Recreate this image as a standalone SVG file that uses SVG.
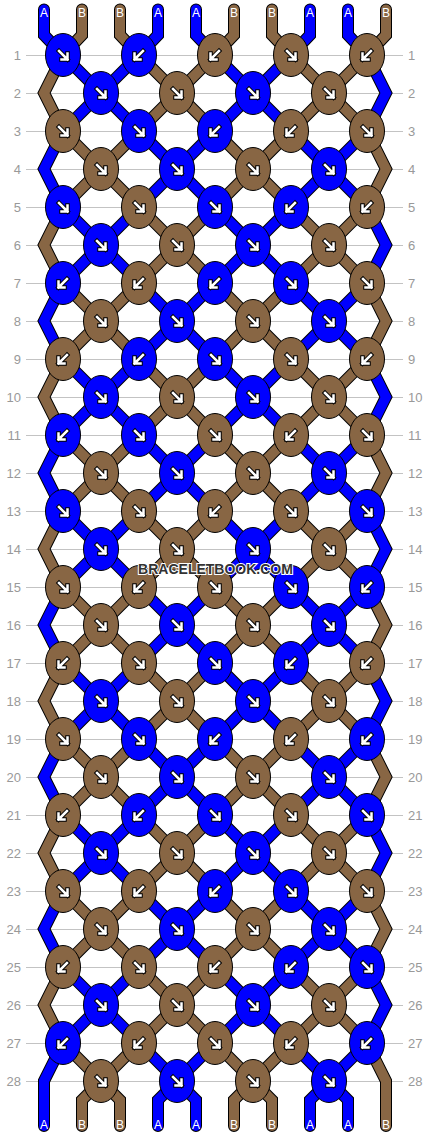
<svg xmlns="http://www.w3.org/2000/svg" xmlns:xlink="http://www.w3.org/1999/xlink" width="430" height="1136" viewBox="0 0 430 1136">
<style>
.ln{stroke:#c3c3c3;stroke-width:1}
.so{fill:none;stroke:#000;stroke-width:12;stroke-linejoin:miter;stroke-linecap:round}
.sa{fill:none;stroke:#0000ff;stroke-width:10;stroke-linejoin:miter;stroke-linecap:round}
.sb{fill:none;stroke:#886644;stroke-width:10;stroke-linejoin:miter;stroke-linecap:round}
.kb{fill:#0000ff;stroke:#000;stroke-width:1}
.kn{fill:#886644;stroke:#000;stroke-width:1}
.ao{fill:none;stroke:#000;stroke-width:4.5;stroke-linecap:square;stroke-linejoin:miter}
.ai{fill:none;stroke:#fff;stroke-width:2.5;stroke-linecap:square;stroke-linejoin:miter}
.nl{font-family:"Liberation Sans",Arial,sans-serif;font-size:13px;fill:#999;text-anchor:end}
.nr{font-family:"Liberation Sans",Arial,sans-serif;font-size:13px;fill:#999;text-anchor:start}
.lab{font-family:"Liberation Sans",Arial,sans-serif;font-size:12px;fill:#fff;text-anchor:middle}
.wm{font-family:"Liberation Sans",Arial,sans-serif;font-weight:bold;font-size:14px;fill:#333;stroke:#fff;stroke-width:2;paint-order:stroke;text-anchor:middle}
</style>
<defs>
<g id="arR"><path class="ao" d="M-4-4L4.5 4.5M4.5-1.5V4.5H-1.5"/><path class="ai" d="M-4-4L4.5 4.5M4.5-1.5V4.5H-1.5"/></g>
<use id="arL" href="#arR" transform="scale(-1,1)"/>
<g id="bR"><ellipse class="kb" rx="17.5" ry="21.5"/><use href="#arR"/></g>
<g id="bL"><ellipse class="kb" rx="17.5" ry="21.5"/><use href="#arL"/></g>
<g id="nR"><ellipse class="kn" rx="17.5" ry="21.5"/><use href="#arR"/></g>
<g id="nL"><ellipse class="kn" rx="17.5" ry="21.5"/><use href="#arL"/></g>
<path id="s1" d="M44 9.5V35L63 55L367 359L386 397L367 435L63 739L44 777L63 815L329 1081L348 1100V1126"/>
<path id="s2" d="M82 9.5V35L63 55L44 93L63 131L367 435L386 473L367 511L63 815L44 853L63 891L253 1081L272 1100V1126"/>
<path id="s3" d="M120 9.5V35L139 55L367 283L386 321L367 359L63 663L44 701L63 739L367 1043L386 1081V1126"/>
<path id="s4" d="M158 9.5V35L139 55L63 131L44 169L63 207L367 511L386 549L367 587L63 891L44 929L63 967L177 1081L196 1100V1126"/>
<path id="s5" d="M196 9.5V35L215 55L367 207L386 245L367 283L63 587L44 625L63 663L367 967L386 1005L367 1043L329 1081L310 1100V1126"/>
<path id="s6" d="M234 9.5V35L215 55L63 207L44 245L63 283L367 587L386 625L367 663L63 967L44 1005L63 1043L101 1081L120 1100V1126"/>
<path id="s7" d="M272 9.5V35L291 55L367 131L386 169L367 207L63 511L44 549L63 587L367 891L386 929L367 967L253 1081L234 1100V1126"/>
<path id="s8" d="M310 9.5V35L291 55L63 283L44 321L63 359L367 663L386 701L367 739L63 1043L44 1081V1126"/>
<path id="s9" d="M348 9.5V35L367 55L386 93L367 131L63 435L44 473L63 511L367 815L386 853L367 891L177 1081L158 1100V1126"/>
<path id="s10" d="M386 9.5V35L367 55L63 359L44 397L63 435L367 739L386 777L367 815L101 1081L82 1100V1126"/>
</defs>
<rect width="430" height="1136" fill="#fff"/>
<g id="rows">
<path class="ln" d="M26 55.5H403M26 93.5H403M26 131.5H403M26 169.5H403M26 207.5H403M26 245.5H403M26 283.5H403M26 321.5H403M26 359.5H403M26 397.5H403M26 435.5H403M26 473.5H403M26 511.5H403M26 549.5H403M26 587.5H403M26 625.5H403M26 663.5H403M26 701.5H403M26 739.5H403M26 777.5H403M26 815.5H403M26 853.5H403M26 891.5H403M26 929.5H403M26 967.5H403M26 1005.5H403M26 1043.5H403M26 1081.5H403"/>
<g class="nl">
<text x="21" y="59.5">1</text><text x="21" y="97.5">2</text><text x="21" y="135.5">3</text><text x="21" y="173.5">4</text><text x="21" y="211.5">5</text><text x="21" y="249.5">6</text><text x="21" y="287.5">7</text><text x="21" y="325.5">8</text><text x="21" y="363.5">9</text><text x="21" y="401.5">10</text><text x="21" y="439.5">11</text><text x="21" y="477.5">12</text><text x="21" y="515.5">13</text><text x="21" y="553.5">14</text><text x="21" y="591.5">15</text><text x="21" y="629.5">16</text><text x="21" y="667.5">17</text><text x="21" y="705.5">18</text><text x="21" y="743.5">19</text><text x="21" y="781.5">20</text><text x="21" y="819.5">21</text><text x="21" y="857.5">22</text><text x="21" y="895.5">23</text><text x="21" y="933.5">24</text><text x="21" y="971.5">25</text><text x="21" y="1009.5">26</text><text x="21" y="1047.5">27</text><text x="21" y="1085.5">28</text>
</g>
<g class="nr">
<text x="408" y="59.5">1</text><text x="408" y="97.5">2</text><text x="408" y="135.5">3</text><text x="408" y="173.5">4</text><text x="408" y="211.5">5</text><text x="408" y="249.5">6</text><text x="408" y="287.5">7</text><text x="408" y="325.5">8</text><text x="408" y="363.5">9</text><text x="408" y="401.5">10</text><text x="408" y="439.5">11</text><text x="408" y="477.5">12</text><text x="408" y="515.5">13</text><text x="408" y="553.5">14</text><text x="408" y="591.5">15</text><text x="408" y="629.5">16</text><text x="408" y="667.5">17</text><text x="408" y="705.5">18</text><text x="408" y="743.5">19</text><text x="408" y="781.5">20</text><text x="408" y="819.5">21</text><text x="408" y="857.5">22</text><text x="408" y="895.5">23</text><text x="408" y="933.5">24</text><text x="408" y="971.5">25</text><text x="408" y="1009.5">26</text><text x="408" y="1047.5">27</text><text x="408" y="1085.5">28</text>
</g>
</g>
<g id="connectors">
<use href="#s1" class="so"/><use href="#s2" class="so"/><use href="#s3" class="so"/><use href="#s4" class="so"/><use href="#s5" class="so"/><use href="#s6" class="so"/><use href="#s7" class="so"/><use href="#s8" class="so"/><use href="#s9" class="so"/><use href="#s10" class="so"/>
<use href="#s1" class="sa"/><use href="#s2" class="sb"/><use href="#s3" class="sb"/><use href="#s4" class="sa"/><use href="#s5" class="sa"/><use href="#s6" class="sb"/><use href="#s7" class="sb"/><use href="#s8" class="sa"/><use href="#s9" class="sa"/><use href="#s10" class="sb"/>
</g>
<g id="string-labels">
<text class="lab" x="44" y="17">A</text><text class="lab" x="82" y="17">B</text><text class="lab" x="120" y="17">B</text><text class="lab" x="158" y="17">A</text><text class="lab" x="196" y="17">A</text><text class="lab" x="234" y="17">B</text><text class="lab" x="272" y="17">B</text><text class="lab" x="310" y="17">A</text><text class="lab" x="348" y="17">A</text><text class="lab" x="386" y="17">B</text>
<text class="lab" x="44" y="1129">A</text><text class="lab" x="82" y="1129">B</text><text class="lab" x="120" y="1129">B</text><text class="lab" x="158" y="1129">A</text><text class="lab" x="196" y="1129">A</text><text class="lab" x="234" y="1129">B</text><text class="lab" x="272" y="1129">B</text><text class="lab" x="310" y="1129">A</text><text class="lab" x="348" y="1129">A</text><text class="lab" x="386" y="1129">B</text>
</g>
<g id="knots">
<g id="k1-1"><use href="#bR" x="63" y="55"/></g><g id="k1-2"><use href="#bL" x="139" y="55"/></g><g id="k1-3"><use href="#nL" x="215" y="55"/></g><g id="k1-4"><use href="#nR" x="291" y="55"/></g><g id="k1-5"><use href="#nL" x="367" y="55"/></g>
<g id="k2-1"><use href="#bR" x="101" y="93"/></g><g id="k2-2"><use href="#nR" x="177" y="93"/></g><g id="k2-3"><use href="#bR" x="253" y="93"/></g><g id="k2-4"><use href="#nR" x="329" y="93"/></g>
<g id="k3-1"><use href="#nR" x="63" y="131"/></g><g id="k3-2"><use href="#bR" x="139" y="131"/></g><g id="k3-3"><use href="#bL" x="215" y="131"/></g><g id="k3-4"><use href="#nL" x="291" y="131"/></g><g id="k3-5"><use href="#nR" x="367" y="131"/></g>
<g id="k4-1"><use href="#nR" x="101" y="169"/></g><g id="k4-2"><use href="#bR" x="177" y="169"/></g><g id="k4-3"><use href="#nR" x="253" y="169"/></g><g id="k4-4"><use href="#bR" x="329" y="169"/></g>
<g id="k5-1"><use href="#bR" x="63" y="207"/></g><g id="k5-2"><use href="#nR" x="139" y="207"/></g><g id="k5-3"><use href="#bR" x="215" y="207"/></g><g id="k5-4"><use href="#bL" x="291" y="207"/></g><g id="k5-5"><use href="#nL" x="367" y="207"/></g>
<g id="k6-1"><use href="#bR" x="101" y="245"/></g><g id="k6-2"><use href="#nR" x="177" y="245"/></g><g id="k6-3"><use href="#bR" x="253" y="245"/></g><g id="k6-4"><use href="#nR" x="329" y="245"/></g>
<g id="k7-1"><use href="#bL" x="63" y="283"/></g><g id="k7-2"><use href="#nL" x="139" y="283"/></g><g id="k7-3"><use href="#bL" x="215" y="283"/></g><g id="k7-4"><use href="#bR" x="291" y="283"/></g><g id="k7-5"><use href="#nR" x="367" y="283"/></g>
<g id="k8-1"><use href="#nR" x="101" y="321"/></g><g id="k8-2"><use href="#bR" x="177" y="321"/></g><g id="k8-3"><use href="#nR" x="253" y="321"/></g><g id="k8-4"><use href="#bR" x="329" y="321"/></g>
<g id="k9-1"><use href="#nL" x="63" y="359"/></g><g id="k9-2"><use href="#bL" x="139" y="359"/></g><g id="k9-3"><use href="#bR" x="215" y="359"/></g><g id="k9-4"><use href="#nR" x="291" y="359"/></g><g id="k9-5"><use href="#nL" x="367" y="359"/></g>
<g id="k10-1"><use href="#bR" x="101" y="397"/></g><g id="k10-2"><use href="#nR" x="177" y="397"/></g><g id="k10-3"><use href="#bR" x="253" y="397"/></g><g id="k10-4"><use href="#nR" x="329" y="397"/></g>
<g id="k11-1"><use href="#bL" x="63" y="435"/></g><g id="k11-2"><use href="#bR" x="139" y="435"/></g><g id="k11-3"><use href="#nR" x="215" y="435"/></g><g id="k11-4"><use href="#nL" x="291" y="435"/></g><g id="k11-5"><use href="#nR" x="367" y="435"/></g>
<g id="k12-1"><use href="#nR" x="101" y="473"/></g><g id="k12-2"><use href="#bR" x="177" y="473"/></g><g id="k12-3"><use href="#nR" x="253" y="473"/></g><g id="k12-4"><use href="#bR" x="329" y="473"/></g>
<g id="k13-1"><use href="#bR" x="63" y="511"/></g><g id="k13-2"><use href="#nR" x="139" y="511"/></g><g id="k13-3"><use href="#nL" x="215" y="511"/></g><g id="k13-4"><use href="#nR" x="291" y="511"/></g><g id="k13-5"><use href="#bR" x="367" y="511"/></g>
<g id="k14-1"><use href="#bR" x="101" y="549"/></g><g id="k14-2"><use href="#nR" x="177" y="549"/></g><g id="k14-3"><use href="#bR" x="253" y="549"/></g><g id="k14-4"><use href="#nR" x="329" y="549"/></g>
<g id="k15-1"><use href="#nR" x="63" y="587"/></g><g id="k15-2"><use href="#nL" x="139" y="587"/></g><g id="k15-3"><use href="#nR" x="215" y="587"/></g><g id="k15-4"><use href="#bR" x="291" y="587"/></g><g id="k15-5"><use href="#bL" x="367" y="587"/></g>
<g id="k16-1"><use href="#nR" x="101" y="625"/></g><g id="k16-2"><use href="#bR" x="177" y="625"/></g><g id="k16-3"><use href="#nR" x="253" y="625"/></g><g id="k16-4"><use href="#bR" x="329" y="625"/></g>
<g id="k17-1"><use href="#nL" x="63" y="663"/></g><g id="k17-2"><use href="#nR" x="139" y="663"/></g><g id="k17-3"><use href="#bR" x="215" y="663"/></g><g id="k17-4"><use href="#bL" x="291" y="663"/></g><g id="k17-5"><use href="#nL" x="367" y="663"/></g>
<g id="k18-1"><use href="#bR" x="101" y="701"/></g><g id="k18-2"><use href="#nR" x="177" y="701"/></g><g id="k18-3"><use href="#bR" x="253" y="701"/></g><g id="k18-4"><use href="#nR" x="329" y="701"/></g>
<g id="k19-1"><use href="#nR" x="63" y="739"/></g><g id="k19-2"><use href="#bR" x="139" y="739"/></g><g id="k19-3"><use href="#bL" x="215" y="739"/></g><g id="k19-4"><use href="#nL" x="291" y="739"/></g><g id="k19-5"><use href="#bL" x="367" y="739"/></g>
<g id="k20-1"><use href="#nR" x="101" y="777"/></g><g id="k20-2"><use href="#bR" x="177" y="777"/></g><g id="k20-3"><use href="#nR" x="253" y="777"/></g><g id="k20-4"><use href="#bR" x="329" y="777"/></g>
<g id="k21-1"><use href="#nL" x="63" y="815"/></g><g id="k21-2"><use href="#bL" x="139" y="815"/></g><g id="k21-3"><use href="#bR" x="215" y="815"/></g><g id="k21-4"><use href="#nR" x="291" y="815"/></g><g id="k21-5"><use href="#bR" x="367" y="815"/></g>
<g id="k22-1"><use href="#bR" x="101" y="853"/></g><g id="k22-2"><use href="#nR" x="177" y="853"/></g><g id="k22-3"><use href="#bR" x="253" y="853"/></g><g id="k22-4"><use href="#nR" x="329" y="853"/></g>
<g id="k23-1"><use href="#nR" x="63" y="891"/></g><g id="k23-2"><use href="#nL" x="139" y="891"/></g><g id="k23-3"><use href="#bL" x="215" y="891"/></g><g id="k23-4"><use href="#bR" x="291" y="891"/></g><g id="k23-5"><use href="#nR" x="367" y="891"/></g>
<g id="k24-1"><use href="#nR" x="101" y="929"/></g><g id="k24-2"><use href="#bR" x="177" y="929"/></g><g id="k24-3"><use href="#nR" x="253" y="929"/></g><g id="k24-4"><use href="#bR" x="329" y="929"/></g>
<g id="k25-1"><use href="#nL" x="63" y="967"/></g><g id="k25-2"><use href="#nR" x="139" y="967"/></g><g id="k25-3"><use href="#nL" x="215" y="967"/></g><g id="k25-4"><use href="#bL" x="291" y="967"/></g><g id="k25-5"><use href="#bR" x="367" y="967"/></g>
<g id="k26-1"><use href="#bR" x="101" y="1005"/></g><g id="k26-2"><use href="#nR" x="177" y="1005"/></g><g id="k26-3"><use href="#bR" x="253" y="1005"/></g><g id="k26-4"><use href="#nR" x="329" y="1005"/></g>
<g id="k27-1"><use href="#bL" x="63" y="1043"/></g><g id="k27-2"><use href="#nL" x="139" y="1043"/></g><g id="k27-3"><use href="#nR" x="215" y="1043"/></g><g id="k27-4"><use href="#nL" x="291" y="1043"/></g><g id="k27-5"><use href="#bL" x="367" y="1043"/></g>
<g id="k28-1"><use href="#nR" x="101" y="1081"/></g><g id="k28-2"><use href="#bR" x="177" y="1081"/></g><g id="k28-3"><use href="#nR" x="253" y="1081"/></g><g id="k28-4"><use href="#bR" x="329" y="1081"/></g>
</g>
<text class="wm" x="215.5" y="573.5">BRACELETBOOK.COM</text>
</svg>
